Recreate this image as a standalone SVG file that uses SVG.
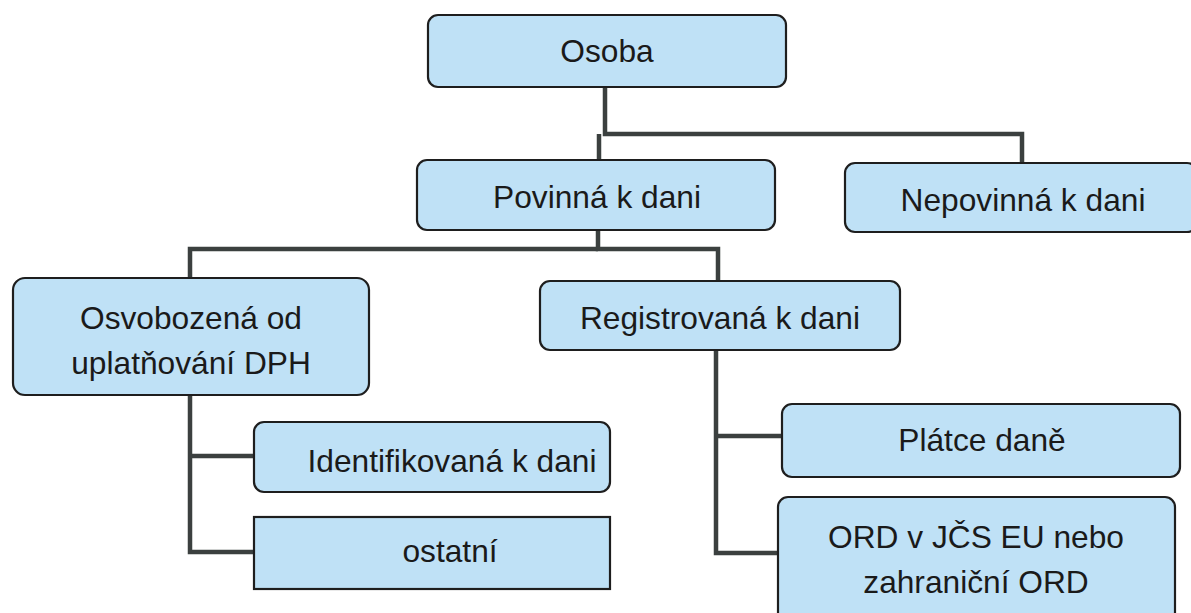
<svg xmlns="http://www.w3.org/2000/svg" width="1191" height="613" viewBox="0 0 1191 613">
<style>
.box{fill:#bfe1f6;stroke:#1e1e1e;stroke-width:2.2}
.t{font-family:"Liberation Sans",Arial,sans-serif;font-size:31.7px;fill:#1a1a1a;text-anchor:middle}
.c{fill:none;stroke:#3b403f;stroke-width:4.5;stroke-linejoin:miter}
</style>
<rect width="1191" height="613" fill="#ffffff"/>
<g id="connectors">
<path class="c" d="M605,87 V134 H1022 V163"/>
<path class="c" d="M599,134 V160"/>
<path class="c" d="M598,230 V249 H718 V281"/>
<path class="c" d="M598,249 H190 V278"/>
<path class="c" d="M190,395 V552 H255"/>
<path class="c" d="M190,456 H255"/>
<path class="c" d="M716,350 V553 H779"/>
<path class="c" d="M716,436 H783"/>
</g>
<g id="osoba">
<rect class="box" x="428" y="15" width="358" height="72" rx="10"/>
<text class="t" x="607" y="62">Osoba</text>
</g>
<g id="povinna">
<rect class="box" x="417" y="160" width="358" height="70" rx="10"/>
<text class="t" x="597" y="208">Povinná k dani</text>
</g>
<g id="nepovinna">
<rect class="box" x="845" y="163" width="352" height="69" rx="10"/>
<text class="t" x="1023" y="211">Nepovinná k dani</text>
</g>
<g id="osvobozena">
<rect class="box" x="13" y="278" width="356" height="117" rx="12"/>
<text class="t" x="191" y="329">Osvobozená od</text>
<text class="t" x="191" y="374">uplatňování DPH</text>
</g>
<g id="registrovana">
<rect class="box" x="540" y="281" width="360" height="69" rx="10"/>
<text class="t" x="720" y="329">Registrovaná k dani</text>
</g>
<g id="identifikovana">
<rect class="box" x="254" y="422" width="356" height="70" rx="10"/>
<text class="t" x="452" y="472">Identifikovaná k dani</text>
</g>
<g id="ostatni">
<rect class="box" x="254" y="517" width="356" height="72"/>
<text class="t" x="450" y="562">ostatní</text>
</g>
<g id="platce">
<rect class="box" x="782" y="404" width="398" height="73" rx="10"/>
<text class="t" x="982" y="451">Plátce daně</text>
</g>
<g id="ord">
<rect class="box" x="778" y="497" width="397" height="130" rx="10"/>
<text class="t" x="976" y="548">ORD v JČS EU nebo</text>
<text class="t" x="976" y="593">zahraniční ORD</text>
</g>
</svg>
